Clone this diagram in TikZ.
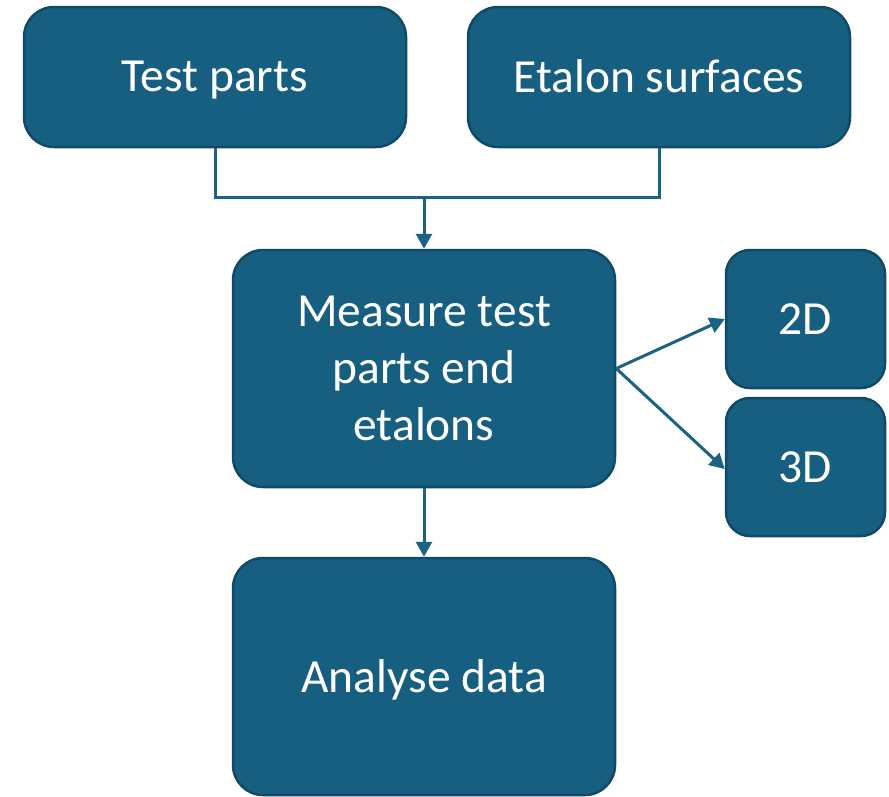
\documentclass[tikz,border=0pt]{standalone}
\usepackage{fontspec}
\setmainfont{Carlito}
\usetikzlibrary{arrows.meta}
\definecolor{boxfill}{HTML}{175F80}
\definecolor{boxedge}{HTML}{104A66}
\definecolor{linkcol}{HTML}{1A6385}
\begin{document}
\begin{tikzpicture}[x=1pt,y=-1pt,
  flowbox/.style={draw=boxedge, line width=2.5pt, fill=boxfill, rounded corners=30pt,
    text=white, font=\fontsize{47.5}{57}\selectfont, align=center, inner sep=0pt},
  oneline/.style={text depth=1pt},
  smallbox/.style={flowbox, rounded corners=24pt},
  link/.style={draw=linkcol, line width=3pt},
  arrowlink/.style={link, -{Triangle[length=15pt,width=16pt]}}]
\useasboundingbox (0,0) rectangle (889,796);
\node[flowbox, oneline, minimum width=382pt, minimum height=140pt] (test) at (215,77) {Test parts};
\node[flowbox, oneline, minimum width=382pt, minimum height=140pt] (etal) at (659,77) {Etalon surfaces};
\node[flowbox, minimum width=382pt, minimum height=237pt] (meas) at (424,368.5) {Measure test\\parts end\\etalons};
\node[smallbox, minimum width=159pt, minimum height=138pt] (twod) at (805.5,319) {2D};
\node[smallbox, minimum width=159pt, minimum height=138pt] (threed) at (805.5,467) {3D};
\node[flowbox, oneline, minimum width=382pt, minimum height=237pt] (anal) at (424,676.5) {Analyse data};
\coordinate (join) at (424,197);
\draw[link] (test.south) |- (join) -| (etal.south);
\draw[arrowlink] (join) -- (meas.north);
\draw[arrowlink] (meas.east) -- (twod.west);
\draw[arrowlink] (meas.east) -- ([yshift=-2pt]threed.west);
\draw[arrowlink] (meas.south) -- (anal.north);
\end{tikzpicture}
\end{document}
